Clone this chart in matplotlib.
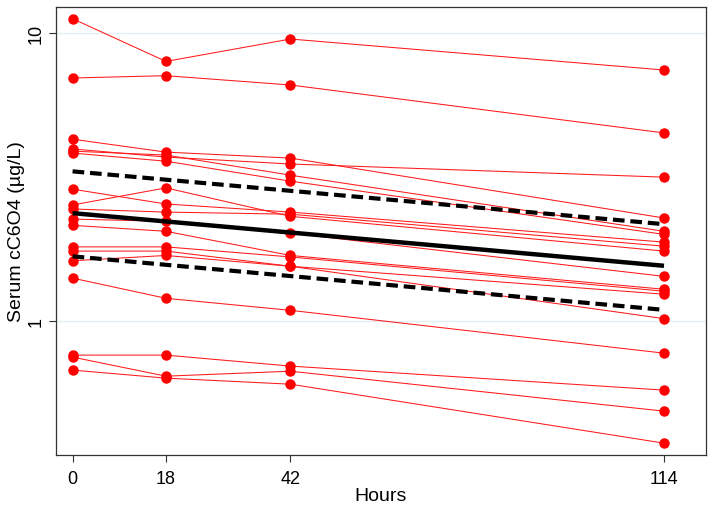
import numpy as np
import matplotlib.pyplot as plt

plt.rcParams['font.family'] = ['Liberation Sans', 'DejaVu Sans']

# ===> data
hours = [0, 18, 42, 114]

subjects = [
    [11.21, 7.97, 9.53, 7.44],
    [6.98, 7.11, 6.60, 4.50],
    [4.28, 3.86, 3.68, 2.28],
    [3.96, 3.71, 3.51, 3.16],
    [3.89, 3.77, 3.21, 2.05],
    [3.83, 3.59, 3.06, 2.00],
    [2.87, 2.55, 2.39, 1.88],
    [2.53, 2.90, 2.31, 1.75],
    [2.45, 2.39, 2.35, 1.82],
    [2.26, 2.22, 2.02, 1.43],
    [2.15, 2.05, 1.69, 1.29],
    [1.81, 1.81, 1.67, 1.27],
    [1.75, 1.75, 1.55, 1.24],
    [1.62, 1.69, 1.55, 1.02],
    [1.41, 1.20, 1.09, 0.774],
    [0.762, 0.762, 0.698, 0.576],
    [0.750, 0.644, 0.670, 0.487],
    [0.676, 0.634, 0.604, 0.377],
]

fit_hours = [0, 114]
fit_mean = [2.37, 1.556]
fit_upper = [3.31, 2.17]
fit_lower = [1.678, 1.094]

# ===> plot
fig = plt.figure(figsize=(7.14, 5.10), dpi=100)
ax = fig.add_axes([0.0784, 0.1059, 0.9104, 0.8784])

ax.set_yscale('log')
ax.set_xlim(-3.2, 122.1)
ax.set_ylim(0.343, 12.31)

for yy in [1, 10]:
    ax.axhline(yy, color='#e2eef2', lw=1.0, zorder=0)

for s in subjects:
    ax.plot(hours, s, color='#ff1a1a', lw=0.75, marker='o', ms=6.5,
            mec='#ff0000', mfc='#ff0000', zorder=2)

ax.plot(fit_hours, fit_mean, color='black', lw=3.2, solid_capstyle='butt', zorder=3)
ax.plot(fit_hours, fit_upper, color='black', lw=3.0, ls=(0, (2.8, 1.4)), zorder=3)
ax.plot(fit_hours, fit_lower, color='black', lw=3.0, ls=(0, (2.8, 1.4)), zorder=3)

ax.set_xticks(hours)
ax.set_xticklabels([str(h) for h in hours])
ax.set_yticks([1, 10])
ax.set_yticklabels(['1', '10'], rotation=90, va='center')
ax.yaxis.set_minor_locator(plt.NullLocator())
ax.tick_params(axis='both', labelsize=13, length=5, width=0.8, color='#333333')
ax.tick_params(axis='x', pad=6)
ax.tick_params(axis='y', pad=3)

ax.set_xlabel('Hours', fontsize=14, labelpad=0)
ax.set_ylabel('Serum cC6O4 (µg/L)', fontsize=14, labelpad=2)

for sp in ax.spines.values():
    sp.set_color('#333333')
    sp.set_linewidth(0.9)

fig.savefig('out.png', dpi=100)
